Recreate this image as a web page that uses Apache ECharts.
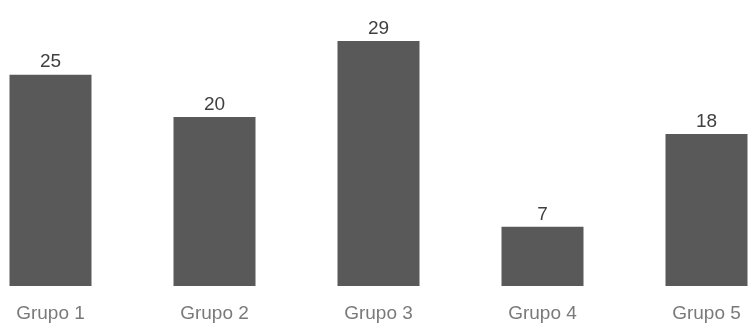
<!DOCTYPE html>
<html>
<head>
<meta charset="utf-8">
<script src="https://cdn.jsdelivr.net/npm/echarts@6/dist/echarts.min.js"></script>
<style>html,body{margin:0;padding:0;background:#fff}#c{width:750px;height:325px}</style>
</head>
<body>
<div id="c"></div>
<script>
var categories = ['Grupo 1', 'Grupo 2', 'Grupo 3', 'Grupo 4', 'Grupo 5'];
var values = [25, 20, 29, 7, 18];

var chart = echarts.init(document.getElementById('c'), null, {renderer: 'canvas'});
chart.setOption({
  animation: false,
  grid: {left: -31.5, width: 820, top: 32.5, bottom: 39, outerBoundsMode: 'none', containLabel: false},
  xAxis: {
    type: 'category',
    data: categories,
    axisLine: {show: false},
    axisTick: {show: false},
    axisLabel: {color: '#7a7a7a', fontSize: 19, fontFamily: 'Liberation Sans', margin: 18}
  },
  yAxis: {
    type: 'value', min: 0, max: 30,
    show: false,
    splitLine: {show: false}
  },
  series: [{
    type: 'bar',
    data: values,
    barWidth: '50%',
    itemStyle: {color: '#595959'},
    label: {show: true, position: 'top', distance: 3, color: '#404040', fontSize: 19, fontFamily: 'Liberation Sans'}
  }]
});
</script>
</body>
</html>
